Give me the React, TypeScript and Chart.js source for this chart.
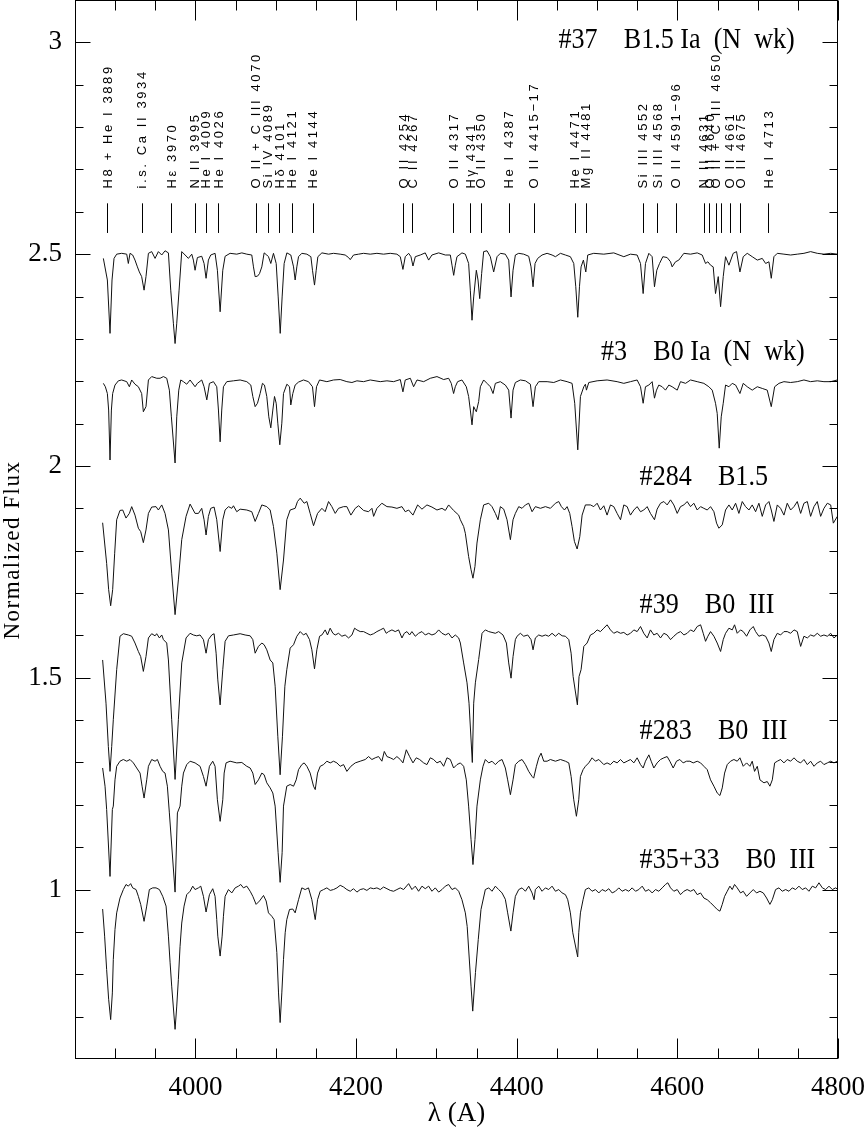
import React, { useEffect, useRef } from "react";
import { Chart, registerables } from "chart.js";

Chart.register(...registerables);

// ---------- DATA ----------
// Spectra: [wavelength (Å), normalized flux + vertical offset]
const s37: [number, number][] = [
[3885.3,2.490],[3890.3,2.439],[3893.6,2.313],[3896.1,2.439],[3898.6,2.490],[3901.9,2.500],[3908.1,2.502],[3914.4,2.500],[3916.4,2.478],[3918.5,2.502],[3921.8,2.498],[3924.7,2.486],[3927.7,2.470],[3930.1,2.458],[3933.0,2.447],[3936.0,2.415],[3938.4,2.447],[3941.4,2.502],[3945.5,2.506],[3949.7,2.490],[3953.8,2.506],[3958.0,2.498],[3962.1,2.508],[3966.3,2.503],[3969.2,2.415],[3972.5,2.337],[3974.6,2.289],[3976.7,2.337],[3979.6,2.415],[3982.9,2.506],[3987.1,2.498],[3991.2,2.490],[3995.4,2.500],[3997.4,2.486],[3999.5,2.462],[4002.4,2.492],[4007.8,2.495],[4010.7,2.478],[4013.2,2.443],[4016.1,2.486],[4019.0,2.498],[4024.4,2.502],[4027.3,2.462],[4030.7,2.364],[4034.0,2.462],[4036.9,2.495],[4043.1,2.502],[4051.4,2.500],[4057.7,2.503],[4063.9,2.500],[4070.1,2.498],[4072.2,2.470],[4074.3,2.447],[4077.2,2.448],[4079.7,2.454],[4082.6,2.470],[4085.5,2.503],[4088.8,2.498],[4090.9,2.494],[4093.8,2.478],[4097.1,2.502],[4100.5,2.478],[4103.0,2.399],[4105.5,2.313],[4107.9,2.399],[4110.4,2.478],[4113.8,2.503],[4118.7,2.498],[4122.1,2.470],[4124.1,2.439],[4126.2,2.470],[4128.3,2.494],[4132.4,2.502],[4138.7,2.500],[4143.7,2.494],[4145.7,2.462],[4148.2,2.427],[4150.3,2.462],[4152.4,2.494],[4157.4,2.503],[4165.7,2.500],[4171.9,2.502],[4180.2,2.500],[4186.4,2.498],[4190.6,2.492],[4192.7,2.487],[4196.8,2.498],[4203.1,2.500],[4209.3,2.502],[4217.6,2.500],[4225.9,2.502],[4234.2,2.500],[4242.5,2.502],[4250.8,2.500],[4255.0,2.494],[4258.3,2.464],[4261.2,2.494],[4265.4,2.502],[4268.3,2.494],[4270.8,2.472],[4273.7,2.494],[4279.9,2.498],[4286.1,2.503],[4290.3,2.486],[4294.4,2.498],[4302.8,2.503],[4311.1,2.498],[4317.3,2.498],[4319.4,2.474],[4321.5,2.450],[4323.5,2.474],[4325.6,2.494],[4331.8,2.503],[4336.0,2.500],[4340.1,2.478],[4342.2,2.415],[4344.3,2.344],[4346.4,2.399],[4349.7,2.462],[4351.8,2.439],[4353.9,2.395],[4356.3,2.454],[4358.8,2.506],[4363.0,2.508],[4367.1,2.494],[4371.3,2.458],[4375.5,2.494],[4379.6,2.502],[4385.8,2.500],[4390.0,2.486],[4392.9,2.399],[4395.4,2.462],[4398.3,2.498],[4402.5,2.502],[4408.7,2.500],[4414.9,2.495],[4417.8,2.470],[4420.3,2.423],[4422.8,2.478],[4426.1,2.490],[4431.5,2.498],[4437.8,2.502],[4444.0,2.498],[4448.2,2.494],[4454.4,2.502],[4460.6,2.498],[4466.8,2.494],[4471.0,2.478],[4473.5,2.423],[4476.0,2.351],[4478.1,2.423],[4480.1,2.470],[4483.0,2.486],[4486.0,2.458],[4488.4,2.498],[4495.9,2.502],[4508.4,2.500],[4520.8,2.503],[4533.3,2.494],[4541.6,2.500],[4549.9,2.498],[4554.1,2.478],[4557.4,2.407],[4560.3,2.478],[4564.5,2.502],[4568.6,2.494],[4571.5,2.423],[4574.4,2.462],[4577.8,2.478],[4581.9,2.494],[4587.3,2.492],[4591.5,2.482],[4593.5,2.470],[4597.7,2.482],[4601.8,2.486],[4608.1,2.502],[4616.4,2.500],[4624.7,2.503],[4630.9,2.498],[4635.1,2.478],[4638.0,2.482],[4641.3,2.474],[4644.6,2.470],[4647.5,2.407],[4650.9,2.447],[4653.8,2.376],[4657.1,2.447],[4660.0,2.494],[4664.2,2.474],[4669.5,2.502],[4673.7,2.506],[4677.9,2.458],[4682.0,2.494],[4687.0,2.502],[4693.2,2.494],[4699.5,2.486],[4705.7,2.490],[4709.9,2.478],[4714.0,2.482],[4716.9,2.443],[4720.2,2.494],[4724.4,2.502],[4732.7,2.500],[4741.0,2.498],[4749.3,2.500],[4757.6,2.502],[4765.9,2.506],[4774.2,2.502],[4782.5,2.500],[4790.9,2.502],[4799.2,2.500]
];

const s3: [number, number][] = [
[3885.3,2.195],[3887.8,2.187],[3890.3,2.171],[3891.9,2.132],[3893.6,2.014],[3895.3,2.132],[3896.9,2.171],[3899.8,2.191],[3904.0,2.201],[3908.1,2.203],[3914.4,2.199],[3917.7,2.187],[3920.6,2.203],[3924.7,2.193],[3928.9,2.187],[3933.0,2.171],[3935.1,2.128],[3938.4,2.140],[3941.4,2.203],[3945.5,2.211],[3951.8,2.207],[3955.9,2.207],[3960.1,2.211],[3964.2,2.207],[3967.5,2.179],[3970.0,2.116],[3974.6,2.007],[3976.7,2.116],[3979.2,2.179],[3981.7,2.203],[3985.0,2.199],[3989.1,2.193],[3993.3,2.203],[3999.5,2.187],[4002.4,2.195],[4007.8,2.203],[4010.7,2.187],[4014.1,2.156],[4017.4,2.195],[4022.4,2.199],[4026.5,2.187],[4028.6,2.132],[4030.7,2.057],[4032.7,2.132],[4034.8,2.187],[4039.0,2.199],[4047.3,2.201],[4055.6,2.203],[4063.9,2.199],[4068.9,2.191],[4071.4,2.164],[4074.3,2.140],[4077.2,2.148],[4080.5,2.171],[4083.4,2.195],[4085.9,2.191],[4088.8,2.164],[4091.3,2.116],[4093.8,2.090],[4096.3,2.132],[4098.4,2.164],[4100.5,2.148],[4102.5,2.101],[4105.0,2.050],[4107.5,2.101],[4109.6,2.171],[4113.8,2.193],[4117.1,2.187],[4118.7,2.144],[4121.2,2.171],[4124.1,2.191],[4128.3,2.198],[4134.5,2.203],[4140.7,2.199],[4145.7,2.187],[4148.2,2.140],[4150.7,2.187],[4154.5,2.203],[4163.6,2.199],[4171.9,2.203],[4180.2,2.204],[4188.5,2.199],[4194.8,2.197],[4201.0,2.201],[4209.3,2.199],[4217.6,2.203],[4230.1,2.199],[4238.4,2.201],[4246.7,2.199],[4255.0,2.204],[4258.3,2.175],[4261.2,2.203],[4267.5,2.207],[4271.6,2.187],[4275.8,2.203],[4284.1,2.199],[4292.4,2.207],[4300.7,2.211],[4309.0,2.204],[4315.2,2.207],[4318.5,2.195],[4321.4,2.171],[4323.5,2.187],[4326.4,2.199],[4331.8,2.203],[4337.2,2.187],[4340.1,2.164],[4342.2,2.132],[4344.3,2.097],[4346.4,2.140],[4348.5,2.132],[4349.7,2.128],[4352.6,2.152],[4354.7,2.187],[4358.8,2.203],[4363.0,2.195],[4367.1,2.187],[4370.5,2.171],[4373.4,2.195],[4379.6,2.199],[4385.8,2.191],[4390.0,2.179],[4392.9,2.113],[4395.4,2.179],[4398.3,2.197],[4404.5,2.203],[4410.8,2.201],[4417.0,2.193],[4420.3,2.140],[4423.2,2.187],[4427.4,2.199],[4437.8,2.199],[4446.1,2.197],[4454.4,2.203],[4462.7,2.199],[4468.9,2.195],[4472.2,2.148],[4476.0,2.038],[4479.3,2.164],[4483.5,2.187],[4485.5,2.193],[4486.8,2.179],[4489.7,2.197],[4500.1,2.201],[4512.5,2.203],[4525.0,2.199],[4533.3,2.195],[4541.6,2.199],[4549.9,2.203],[4554.1,2.187],[4557.4,2.148],[4560.3,2.187],[4564.5,2.191],[4568.6,2.199],[4571.5,2.160],[4574.0,2.179],[4576.9,2.191],[4581.1,2.187],[4585.2,2.179],[4589.4,2.191],[4593.5,2.187],[4599.8,2.179],[4603.9,2.199],[4610.2,2.195],[4616.4,2.203],[4624.7,2.199],[4633.0,2.195],[4639.2,2.187],[4643.4,2.179],[4647.5,2.148],[4649.6,2.124],[4652.1,2.042],[4654.6,2.116],[4657.1,2.148],[4660.0,2.191],[4664.2,2.187],[4668.3,2.195],[4672.5,2.191],[4677.9,2.171],[4682.0,2.195],[4687.0,2.187],[4693.2,2.179],[4699.5,2.187],[4705.7,2.183],[4711.9,2.179],[4716.9,2.140],[4721.1,2.187],[4726.5,2.195],[4732.7,2.199],[4741.0,2.197],[4749.3,2.199],[4757.6,2.203],[4765.9,2.199],[4774.2,2.201],[4782.5,2.199],[4790.9,2.199],[4799.2,2.203]
];

const s284: [number, number][] = [
[3884.4,1.866],[3889.4,1.770],[3891.9,1.708],[3894.4,1.670],[3896.9,1.708],[3899.4,1.794],[3901.9,1.873],[3906.0,1.895],[3909.4,1.896],[3913.5,1.877],[3917.7,1.888],[3920.6,1.904],[3924.7,1.884],[3928.9,1.853],[3931.8,1.845],[3935.1,1.819],[3938.4,1.849],[3941.4,1.888],[3945.5,1.903],[3950.9,1.904],[3953.8,1.896],[3958.0,1.908],[3962.1,1.888],[3966.3,1.849],[3970.4,1.747],[3974.6,1.649],[3978.7,1.731],[3982.9,1.826],[3988.3,1.881],[3993.3,1.910],[3999.5,1.888],[4003.7,1.888],[4007.8,1.900],[4010.7,1.873],[4013.2,1.837],[4016.1,1.881],[4019.0,1.900],[4023.2,1.903],[4026.5,1.873],[4030.7,1.798],[4034.0,1.873],[4036.9,1.896],[4041.1,1.904],[4045.2,1.900],[4047.3,1.906],[4051.4,1.892],[4055.6,1.898],[4063.9,1.896],[4070.1,1.892],[4074.3,1.869],[4078.4,1.888],[4082.6,1.908],[4088.8,1.904],[4093.0,1.896],[4097.1,1.857],[4101.3,1.794],[4105.4,1.708],[4109.6,1.778],[4113.7,1.873],[4117.9,1.896],[4124.1,1.900],[4127.0,1.916],[4130.4,1.924],[4135.3,1.912],[4138.7,1.916],[4142.8,1.888],[4147.0,1.859],[4152.0,1.888],[4157.4,1.900],[4161.5,1.892],[4165.7,1.916],[4169.8,1.904],[4174.0,1.888],[4178.1,1.900],[4184.4,1.904],[4188.5,1.904],[4193.5,1.884],[4198.9,1.900],[4203.1,1.906],[4209.3,1.895],[4215.5,1.892],[4219.7,1.900],[4221.8,1.881],[4225.9,1.900],[4232.1,1.912],[4238.4,1.904],[4244.6,1.903],[4250.8,1.900],[4257.1,1.904],[4261.2,1.892],[4265.4,1.896],[4270.8,1.884],[4276.6,1.908],[4282.0,1.898],[4288.2,1.908],[4294.4,1.903],[4300.7,1.896],[4306.9,1.900],[4311.1,1.895],[4315.2,1.908],[4321.4,1.895],[4327.7,1.884],[4329.8,1.873],[4333.9,1.857],[4336.0,1.841],[4340.1,1.786],[4343.1,1.755],[4345.5,1.735],[4348.0,1.763],[4350.5,1.818],[4354.7,1.873],[4358.8,1.908],[4365.1,1.912],[4369.2,1.904],[4373.4,1.888],[4376.7,1.873],[4379.6,1.904],[4383.8,1.898],[4387.9,1.873],[4392.1,1.826],[4395.4,1.873],[4398.3,1.888],[4402.5,1.904],[4406.6,1.900],[4410.8,1.908],[4414.9,1.912],[4419.1,1.892],[4423.2,1.904],[4429.5,1.900],[4435.7,1.904],[4441.9,1.900],[4448.2,1.912],[4452.3,1.916],[4455.6,1.904],[4459.4,1.896],[4462.7,1.904],[4466.0,1.888],[4468.9,1.857],[4471.8,1.822],[4475.2,1.804],[4478.5,1.833],[4481.4,1.884],[4485.5,1.908],[4491.8,1.908],[4495.9,1.904],[4500.1,1.912],[4504.2,1.896],[4508.4,1.906],[4512.5,1.884],[4516.7,1.908],[4520.8,1.904],[4525.0,1.888],[4529.2,1.873],[4533.3,1.908],[4537.5,1.904],[4541.6,1.884],[4545.8,1.896],[4549.9,1.904],[4554.1,1.892],[4558.2,1.896],[4562.4,1.904],[4566.5,1.888],[4571.5,1.873],[4574.8,1.898],[4579.0,1.912],[4583.2,1.916],[4587.3,1.908],[4591.5,1.920],[4595.6,1.908],[4599.8,1.888],[4603.9,1.904],[4608.1,1.908],[4612.2,1.916],[4616.4,1.904],[4620.5,1.912],[4624.7,1.896],[4628.9,1.904],[4633.0,1.900],[4637.2,1.896],[4641.3,1.904],[4645.5,1.892],[4648.8,1.865],[4651.7,1.853],[4655.9,1.861],[4660.0,1.896],[4664.2,1.908],[4668.3,1.896],[4672.5,1.912],[4676.6,1.888],[4680.8,1.916],[4684.9,1.904],[4689.1,1.896],[4693.2,1.908],[4697.4,1.892],[4701.5,1.912],[4705.7,1.881],[4709.9,1.908],[4714.0,1.916],[4716.9,1.896],[4720.2,1.869],[4724.4,1.908],[4728.5,1.900],[4732.7,1.884],[4736.8,1.912],[4741.0,1.896],[4745.2,1.904],[4749.3,1.916],[4753.5,1.888],[4757.6,1.912],[4761.8,1.916],[4765.9,1.881],[4770.1,1.904],[4774.2,1.916],[4778.4,1.881],[4782.5,1.900],[4786.7,1.912],[4790.9,1.908],[4794.2,1.865],[4799.2,1.881]
];

const s39: [number, number][] = [
[3884.4,1.542],[3888.6,1.440],[3891.5,1.338],[3893.6,1.279],[3895.7,1.338],[3897.7,1.401],[3901.9,1.519],[3906.0,1.598],[3910.2,1.604],[3916.4,1.601],[3920.6,1.598],[3924.7,1.582],[3928.9,1.562],[3931.8,1.550],[3935.1,1.515],[3938.4,1.550],[3941.4,1.594],[3945.5,1.604],[3949.7,1.599],[3951.7,1.604],[3955.1,1.594],[3958.0,1.601],[3960.1,1.590],[3964.2,1.582],[3966.3,1.542],[3970.4,1.401],[3974.6,1.260],[3978.7,1.401],[3982.9,1.535],[3988.3,1.594],[3993.3,1.605],[3997.4,1.601],[4001.6,1.599],[4005.7,1.601],[4009.9,1.590],[4013.2,1.558],[4016.1,1.590],[4020.3,1.601],[4023.2,1.604],[4025.7,1.558],[4027.8,1.495],[4030.7,1.436],[4034.0,1.519],[4036.9,1.586],[4041.1,1.599],[4047.3,1.601],[4055.6,1.604],[4061.8,1.601],[4068.1,1.599],[4071.4,1.590],[4074.3,1.558],[4078.4,1.574],[4082.6,1.582],[4085.5,1.578],[4088.8,1.566],[4093.0,1.542],[4096.3,1.535],[4099.2,1.480],[4102.5,1.362],[4105.4,1.271],[4108.3,1.362],[4111.3,1.480],[4113.7,1.519],[4117.9,1.570],[4122.1,1.578],[4126.2,1.598],[4130.4,1.609],[4134.5,1.601],[4137.8,1.605],[4142.0,1.590],[4144.9,1.566],[4148.2,1.521],[4151.1,1.566],[4154.5,1.598],[4157.4,1.601],[4161.5,1.613],[4164.4,1.601],[4167.7,1.617],[4171.1,1.605],[4174.0,1.601],[4178.1,1.605],[4182.3,1.598],[4186.4,1.601],[4190.6,1.594],[4194.8,1.601],[4198.1,1.617],[4201.0,1.613],[4205.1,1.609],[4209.3,1.609],[4213.4,1.605],[4217.6,1.601],[4221.8,1.604],[4225.9,1.609],[4230.1,1.613],[4234.2,1.617],[4237.5,1.605],[4240.4,1.609],[4244.6,1.613],[4248.7,1.609],[4252.9,1.613],[4257.1,1.594],[4260.0,1.605],[4263.3,1.609],[4266.6,1.601],[4269.5,1.609],[4273.7,1.598],[4277.8,1.605],[4282.0,1.609],[4286.1,1.601],[4290.3,1.605],[4294.4,1.601],[4298.6,1.604],[4302.8,1.613],[4306.9,1.605],[4311.1,1.601],[4315.2,1.605],[4319.4,1.594],[4323.5,1.601],[4327.7,1.594],[4329.8,1.582],[4333.9,1.535],[4338.1,1.488],[4340.6,1.440],[4344.7,1.300],[4346.4,1.440],[4348.5,1.488],[4352.6,1.543],[4356.8,1.605],[4360.9,1.613],[4365.1,1.609],[4369.2,1.607],[4373.4,1.605],[4377.5,1.609],[4382.9,1.601],[4387.1,1.582],[4390.0,1.535],[4392.9,1.499],[4395.4,1.550],[4398.3,1.590],[4400.4,1.598],[4404.5,1.605],[4408.7,1.598],[4413.7,1.601],[4417.8,1.590],[4420.3,1.566],[4423.2,1.594],[4427.4,1.601],[4431.5,1.598],[4435.7,1.601],[4439.8,1.598],[4444.0,1.605],[4448.2,1.598],[4452.3,1.605],[4456.5,1.599],[4460.6,1.598],[4464.8,1.590],[4467.7,1.558],[4470.2,1.503],[4475.5,1.436],[4477.6,1.503],[4480.1,1.519],[4483.5,1.574],[4487.6,1.582],[4491.8,1.601],[4495.9,1.605],[4500.1,1.613],[4504.2,1.609],[4508.4,1.617],[4512.5,1.625],[4516.7,1.613],[4520.8,1.605],[4525.0,1.609],[4529.2,1.605],[4533.3,1.607],[4537.5,1.601],[4541.6,1.605],[4545.8,1.613],[4549.9,1.609],[4554.1,1.621],[4558.2,1.605],[4562.4,1.594],[4566.5,1.613],[4570.7,1.601],[4574.8,1.605],[4579.0,1.594],[4583.2,1.605],[4587.3,1.601],[4591.5,1.590],[4595.6,1.598],[4599.8,1.605],[4603.9,1.609],[4608.1,1.601],[4612.2,1.605],[4616.4,1.613],[4620.5,1.609],[4624.7,1.621],[4628.9,1.625],[4632.2,1.605],[4635.1,1.586],[4638.0,1.598],[4641.3,1.609],[4645.5,1.598],[4649.6,1.582],[4653.8,1.562],[4657.1,1.590],[4660.0,1.605],[4664.2,1.617],[4668.3,1.613],[4671.2,1.625],[4674.5,1.605],[4678.7,1.613],[4682.0,1.609],[4686.2,1.598],[4690.3,1.613],[4694.5,1.621],[4697.4,1.609],[4701.5,1.598],[4705.7,1.601],[4709.9,1.598],[4714.0,1.582],[4716.9,1.562],[4720.2,1.590],[4724.4,1.605],[4728.5,1.601],[4732.7,1.609],[4736.8,1.609],[4741.0,1.605],[4745.2,1.613],[4749.3,1.609],[4753.5,1.574],[4757.6,1.598],[4761.8,1.594],[4765.9,1.601],[4770.1,1.598],[4774.2,1.605],[4778.4,1.598],[4782.5,1.601],[4786.7,1.598],[4790.9,1.605],[4795.0,1.594],[4799.2,1.601]
];

const s283: [number, number][] = [
[3884.4,1.287],[3887.4,1.244],[3889.4,1.189],[3893.6,1.031],[3896.5,1.189],[3897.7,1.197],[3899.8,1.259],[3901.9,1.291],[3906.0,1.303],[3910.2,1.307],[3914.4,1.303],[3918.5,1.307],[3922.7,1.299],[3926.8,1.287],[3931.0,1.275],[3933.5,1.244],[3936.0,1.216],[3939.3,1.259],[3941.4,1.291],[3945.5,1.307],[3949.7,1.303],[3952.6,1.307],[3955.9,1.291],[3959.2,1.279],[3962.1,1.275],[3965.0,1.244],[3967.5,1.181],[3974.6,0.994],[3977.5,1.181],[3980.8,1.197],[3982.9,1.244],[3985.0,1.275],[3989.1,1.295],[3993.3,1.303],[3999.5,1.299],[4005.7,1.291],[4009.9,1.267],[4013.2,1.244],[4017.4,1.291],[4021.5,1.303],[4024.4,1.291],[4027.3,1.212],[4030.7,1.161],[4034.0,1.212],[4035.7,1.275],[4038.1,1.299],[4043.1,1.303],[4051.4,1.299],[4057.7,1.300],[4063.9,1.291],[4068.1,1.287],[4071.4,1.275],[4074.3,1.248],[4078.4,1.259],[4082.6,1.275],[4085.5,1.271],[4088.8,1.252],[4093.0,1.240],[4096.3,1.228],[4099.2,1.197],[4102.9,1.087],[4105.4,1.017],[4107.9,1.087],[4109.6,1.197],[4113.7,1.244],[4117.9,1.248],[4122.1,1.244],[4125.4,1.259],[4128.3,1.283],[4132.4,1.295],[4135.3,1.299],[4138.7,1.291],[4142.8,1.275],[4147.0,1.244],[4149.1,1.236],[4152.0,1.275],[4155.3,1.291],[4159.5,1.295],[4163.6,1.303],[4167.8,1.299],[4171.9,1.303],[4176.1,1.299],[4180.2,1.291],[4184.4,1.295],[4188.5,1.279],[4193.5,1.291],[4198.9,1.299],[4205.1,1.303],[4211.4,1.307],[4215.5,1.314],[4219.7,1.307],[4223.8,1.311],[4228.0,1.314],[4232.1,1.303],[4235.1,1.326],[4238.4,1.314],[4242.5,1.311],[4246.7,1.307],[4250.8,1.314],[4255.0,1.307],[4258.3,1.299],[4262.5,1.330],[4266.6,1.314],[4270.8,1.299],[4274.9,1.311],[4279.1,1.307],[4284.1,1.299],[4288.2,1.295],[4292.4,1.311],[4296.5,1.307],[4300.7,1.299],[4304.8,1.303],[4309.0,1.291],[4313.1,1.311],[4317.3,1.307],[4321.4,1.287],[4325.6,1.295],[4329.8,1.299],[4333.9,1.291],[4337.2,1.259],[4340.1,1.197],[4343.1,1.118],[4345.5,1.059],[4348.0,1.118],[4350.5,1.197],[4354.7,1.259],[4358.0,1.291],[4360.9,1.307],[4365.1,1.299],[4369.2,1.303],[4373.4,1.295],[4377.5,1.303],[4381.7,1.307],[4385.8,1.287],[4388.7,1.259],[4392.1,1.224],[4395.4,1.259],[4398.3,1.295],[4402.5,1.303],[4406.6,1.307],[4410.8,1.295],[4414.9,1.279],[4419.1,1.267],[4421.1,1.263],[4424.5,1.291],[4427.4,1.311],[4430.3,1.322],[4433.6,1.303],[4437.8,1.303],[4441.9,1.307],[4448.2,1.303],[4454.4,1.307],[4460.6,1.303],[4464.8,1.299],[4467.7,1.267],[4471.0,1.212],[4474.3,1.173],[4477.2,1.212],[4479.3,1.267],[4482.6,1.283],[4485.5,1.291],[4489.7,1.299],[4493.8,1.311],[4498.0,1.303],[4502.2,1.307],[4508.4,1.295],[4512.5,1.299],[4516.7,1.295],[4520.8,1.303],[4525.0,1.299],[4529.2,1.307],[4533.3,1.299],[4537.5,1.303],[4541.6,1.307],[4545.8,1.299],[4549.9,1.311],[4554.1,1.295],[4557.4,1.287],[4560.3,1.303],[4564.5,1.318],[4567.4,1.303],[4570.7,1.287],[4574.8,1.299],[4579.0,1.307],[4583.2,1.311],[4587.3,1.314],[4590.6,1.303],[4594.8,1.287],[4598.9,1.303],[4603.1,1.307],[4607.2,1.299],[4611.4,1.303],[4615.6,1.303],[4619.7,1.299],[4624.7,1.303],[4628.9,1.299],[4633.0,1.291],[4637.2,1.283],[4641.3,1.259],[4645.5,1.244],[4649.6,1.228],[4653.0,1.222],[4655.9,1.240],[4658.8,1.275],[4662.1,1.295],[4666.2,1.303],[4670.4,1.307],[4674.5,1.303],[4677.9,1.311],[4682.0,1.291],[4686.2,1.299],[4690.3,1.291],[4693.2,1.303],[4696.1,1.279],[4699.5,1.291],[4702.8,1.259],[4707.8,1.252],[4711.9,1.255],[4715.2,1.244],[4718.2,1.259],[4721.1,1.299],[4724.4,1.303],[4728.5,1.307],[4732.7,1.299],[4736.8,1.307],[4741.0,1.303],[4745.2,1.311],[4749.3,1.303],[4753.5,1.299],[4757.6,1.307],[4761.8,1.295],[4765.9,1.303],[4770.1,1.291],[4774.2,1.299],[4778.4,1.303],[4782.5,1.295],[4786.7,1.299],[4790.9,1.303],[4795.0,1.299],[4799.2,1.303]
];

const s35_33: [number, number][] = [
[3884.4,0.954],[3886.9,0.890],[3889.4,0.811],[3891.9,0.741],[3894.4,0.693],[3896.5,0.756],[3897.7,0.835],[3899.8,0.906],[3901.9,0.945],[3906.0,0.980],[3910.2,1.000],[3913.5,1.012],[3916.4,1.008],[3919.3,1.014],[3921.8,1.004],[3926.0,1.000],[3928.9,0.984],[3931.8,0.965],[3936.0,0.925],[3939.3,0.961],[3942.6,1.000],[3946.8,1.004],[3950.9,1.004],[3955.1,1.000],[3959.2,0.984],[3963.4,0.961],[3966.3,0.890],[3968.4,0.827],[3970.4,0.772],[3974.6,0.670],[3976.7,0.725],[3978.7,0.788],[3980.8,0.866],[3982.9,0.921],[3985.8,0.961],[3989.1,0.988],[3993.3,0.996],[3996.6,1.008],[3999.5,1.000],[4003.7,1.004],[4006.6,1.008],[4009.9,0.984],[4013.2,0.947],[4017.4,0.988],[4021.5,1.002],[4024.4,0.984],[4026.5,0.929],[4027.8,0.890],[4030.7,0.843],[4033.2,0.890],[4034.8,0.937],[4036.9,0.984],[4041.1,1.000],[4045.2,0.992],[4049.4,1.004],[4053.5,1.008],[4056.4,1.012],[4059.7,1.004],[4063.9,1.008],[4068.1,0.996],[4071.4,0.984],[4075.5,0.965],[4079.7,0.973],[4084.7,0.986],[4088.0,0.973],[4090.9,0.945],[4095.0,0.937],[4097.9,0.929],[4101.3,0.851],[4103.4,0.756],[4105.4,0.686],[4107.5,0.756],[4109.6,0.835],[4111.7,0.898],[4113.7,0.929],[4117.1,0.953],[4121.2,0.954],[4124.1,0.945],[4128.3,0.976],[4132.4,1.004],[4136.6,1.000],[4140.7,1.004],[4144.9,0.976],[4149.1,0.929],[4152.0,0.976],[4155.3,0.996],[4159.5,1.000],[4163.6,1.004],[4167.8,0.998],[4171.9,1.000],[4176.1,1.004],[4180.2,1.010],[4184.4,1.006],[4188.5,1.000],[4192.7,0.996],[4196.8,1.002],[4201.0,0.994],[4205.1,1.000],[4209.3,1.002],[4213.4,0.998],[4217.6,1.004],[4221.8,1.002],[4225.9,1.004],[4230.1,1.000],[4234.2,1.006],[4238.4,1.002],[4242.5,0.998],[4246.7,0.996],[4250.8,1.000],[4255.0,1.004],[4259.1,1.000],[4265.4,1.014],[4269.5,1.000],[4273.7,1.008],[4277.8,0.996],[4282.0,1.008],[4286.1,1.002],[4290.3,1.008],[4294.4,0.996],[4298.6,1.004],[4302.8,0.994],[4306.9,1.000],[4311.1,1.008],[4315.2,1.012],[4319.4,1.000],[4323.5,1.004],[4327.7,0.996],[4331.8,0.976],[4336.0,0.945],[4338.3,0.913],[4343.1,0.772],[4345.2,0.713],[4348.6,0.804],[4352.1,0.882],[4355.5,0.953],[4360.9,1.000],[4365.1,1.004],[4369.2,0.996],[4373.4,1.008],[4377.5,1.000],[4381.7,0.992],[4385.8,0.977],[4388.7,0.945],[4392.7,0.902],[4395.4,0.945],[4398.3,0.984],[4402.5,1.000],[4406.6,1.004],[4410.8,0.996],[4414.9,1.008],[4419.1,0.992],[4421.6,0.976],[4423.2,1.000],[4427.4,1.008],[4431.5,0.996],[4435.7,1.004],[4439.8,1.000],[4444.0,1.008],[4448.2,0.996],[4452.3,1.000],[4456.5,0.992],[4460.6,0.988],[4463.5,0.976],[4466.8,0.945],[4469.8,0.898],[4475.9,0.841],[4477.2,0.898],[4479.3,0.945],[4482.6,0.976],[4485.5,1.000],[4489.7,1.004],[4493.8,0.996],[4498.0,1.000],[4502.2,0.992],[4506.3,1.000],[4510.5,0.996],[4514.6,1.002],[4518.8,0.992],[4522.9,0.996],[4527.1,1.004],[4531.2,0.996],[4535.4,1.000],[4539.5,0.996],[4543.7,1.004],[4547.9,0.996],[4552.0,1.000],[4556.2,1.008],[4560.3,0.996],[4564.5,1.000],[4568.6,0.992],[4572.8,1.000],[4576.9,0.996],[4581.1,1.004],[4585.2,1.012],[4588.1,1.016],[4591.5,1.004],[4595.6,0.996],[4599.8,1.000],[4603.9,0.988],[4608.1,0.996],[4612.2,1.000],[4616.4,0.996],[4620.5,1.000],[4624.7,0.988],[4628.9,0.992],[4633.0,0.980],[4637.2,0.976],[4641.3,0.969],[4645.5,0.961],[4649.6,0.953],[4653.0,0.949],[4655.9,0.965],[4658.8,0.984],[4662.1,0.996],[4665.4,1.008],[4668.3,1.000],[4671.2,1.012],[4674.5,1.004],[4678.7,0.992],[4682.0,0.996],[4686.2,0.984],[4690.3,0.992],[4694.5,1.000],[4698.6,0.992],[4702.8,0.996],[4707.0,0.992],[4711.1,0.980],[4715.2,0.965],[4718.2,0.976],[4722.3,1.000],[4726.5,1.004],[4730.6,0.996],[4734.8,1.000],[4738.9,0.996],[4743.1,1.004],[4747.2,1.000],[4751.4,1.008],[4755.5,1.000],[4759.7,1.004],[4763.8,0.996],[4768.0,1.008],[4772.2,1.004],[4776.3,1.016],[4780.5,1.004],[4784.6,1.000],[4788.8,1.008],[4792.9,1.000],[4797.1,1.004],[4800.0,1.000]
];

const starNames: string[] = [
  "#37    B1.5 Ia  (N  wk)",
  "#3    B0 Ia  (N  wk)",
  "#284    B1.5",
  "#39    B0  III",
  "#283    B0  III",
  "#35+33    B0  III",
];

// Line identifications: marker wavelength (Å) and label
const lineWavelengths: number[] = [3890,3933,3970,3999,4013,4028,4075,4090,4104,4120,4146,4259,4270,4321,4342,4355,4390,4421,4472,4486,4557,4575,4598,4633,4640,4648,4654,4665,4678,4713];
const lineLabels: string[] = [
  "H8 + He I 3889","i.s. Ca II 3934","H\u03b5 3970","N II 3995","He I 4009","He I 4026",
  "O II + C III 4070","Si IV 4089","H\u03b4 4101","He I 4121","He I 4144",
  "O II 4254","C II 4267","O II 4317","H\u03b3 4341","O II 4350","He I 4387",
  "O II 4415\u221217","He I 4471","Mg II 4481","Si III 4552","Si III 4568","O II 4591\u221296",
  "N II 4631","O II 4640","O II + C III 4650","","O II 4661","O II 4675","He I 4713"
];

const yTickLabels: string[] = ["1", "1.5", "2", "2.5", "3"];
const xTickLabels: string[] = ["4000", "4200", "4400", "4600", "4800"];

// ---------- LAYOUT / STYLE ----------
const X_MIN = 3850, X_MAX = 4800, Y_MIN = 0.6, Y_MAX = 3.1;
// star label anchors in data coordinates (left edge, vertical middle)
const starAnchors: [number, number][] = [
  [4452, 3.005], [4505, 2.267], [4553, 1.972], [4553, 1.670], [4553, 1.373], [4553, 1.068],
];
const MARK_TOP = 2.620, MARK_BOTTOM = 2.550, MARK_TEXT = 2.655;

const overlay = {
  id: "overlay",
  afterDraw(chart: any) {
    const { ctx, chartArea: a, scales } = chart;
    const xs = scales.x, ys = scales.y;
    ctx.save();
    ctx.strokeStyle = "#000";
    ctx.fillStyle = "#000";
    ctx.lineWidth = 1;
    const L = Math.round(a.left) + 0.5, R = Math.round(a.right) - 0.5;
    const T = Math.round(a.top) + 0.5, B = Math.round(a.bottom) - 0.5;
    ctx.strokeRect(L, T, R - L, B - T);

    // x ticks (inward, bottom and top)
    ctx.beginPath();
    for (let v = 3900; v <= X_MAX; v += 50) {
      const px = Math.round(xs.getPixelForValue(v)) + 0.5;
      const len = v % 200 === 0 ? 20 : 10;
      ctx.moveTo(px, B); ctx.lineTo(px, B - len);
      ctx.moveTo(px, T); ctx.lineTo(px, T + len);
    }
    // y ticks (inward, left and right)
    for (let t = 7; t <= 31; t++) {
      const py = Math.round(ys.getPixelForValue(t / 10)) + 0.5;
      const len = t % 5 === 0 ? 15 : 8;
      ctx.moveTo(L, py); ctx.lineTo(L + len, py);
      ctx.moveTo(R, py); ctx.lineTo(R - len, py);
    }
    ctx.stroke();

    // tick labels
    ctx.font = '27px "Liberation Serif"';
    ctx.textBaseline = "middle";
    ctx.textAlign = "right";
    yTickLabels.forEach((s) => {
      ctx.fillText(s, a.left - 13, ys.getPixelForValue(parseFloat(s)));
    });
    ctx.textAlign = "center";
    xTickLabels.forEach((s) => {
      ctx.fillText(s, xs.getPixelForValue(parseFloat(s)), a.bottom + 29);
    });

    // axis titles
    ctx.font = '27px "Liberation Serif"';
    ctx.fillText("\u03bb (A)", (a.left + a.right) / 2, a.bottom + 55);
    ctx.save();
    ctx.translate(13, 550);
    ctx.rotate(-Math.PI / 2);
    ctx.font = '23px "Liberation Serif"';
    (ctx as any).letterSpacing = "1.5px";
    ctx.textAlign = "center";
    ctx.fillText("Normalized Flux", 0, 0);
    ctx.restore();

    // star labels (tall, slightly condensed serif)
    ctx.font = '29px "Liberation Serif"';
    (ctx as any).letterSpacing = "0px";
    ctx.textAlign = "left";
    starNames.forEach((s, i) => {
      const [lx, ly] = starAnchors[i];
      ctx.save();
      ctx.translate(xs.getPixelForValue(lx), ys.getPixelForValue(ly));
      ctx.scale(0.9, 1);
      ctx.fillText(s, 0, 0);
      ctx.restore();
    });

    // line identification markers and labels
    ctx.beginPath();
    const yTop = ys.getPixelForValue(MARK_TOP), yBot = ys.getPixelForValue(MARK_BOTTOM);
    lineWavelengths.forEach((w) => {
      const px = Math.round(xs.getPixelForValue(w)) + 0.5;
      ctx.moveTo(px, yTop); ctx.lineTo(px, yBot);
    });
    ctx.stroke();
    ctx.font = '13px "Liberation Sans"';
    (ctx as any).letterSpacing = "2.6px";
    ctx.textAlign = "left";
    ctx.textBaseline = "middle";
    const yText = ys.getPixelForValue(MARK_TEXT);
    lineWavelengths.forEach((w, i) => {
      if (!lineLabels[i]) return;
      ctx.save();
      ctx.translate(xs.getPixelForValue(w) + 1, yText);
      ctx.rotate(-Math.PI / 2);
      ctx.fillText(lineLabels[i], 0, 0);
      ctx.restore();
    });
    ctx.restore();
  },
};

const spectra = [s37, s3, s284, s39, s283, s35_33];

export default function App() {
  const ref = useRef<HTMLCanvasElement | null>(null);
  useEffect(() => {
    document.body.style.margin = "0";
    const chart = new Chart(ref.current as HTMLCanvasElement, {
      type: "scatter",
      data: {
        datasets: spectra.map((s) => ({
          data: s.map(([x, y]) => ({ x, y })),
          showLine: true,
          borderColor: "#111",
          borderWidth: 1,
          pointRadius: 0,
          fill: false,
          tension: 0,
        })),
      },
      options: {
        responsive: false,
        animation: false,
        devicePixelRatio: 1,
        events: [],
        layout: { padding: { left: 75, right: 28, top: 0, bottom: 68 } },
        plugins: { legend: { display: false }, tooltip: { enabled: false } },
        scales: {
          x: { type: "linear", min: X_MIN, max: X_MAX, display: false },
          y: { type: "linear", min: Y_MIN, max: Y_MAX, display: false },
        },
      },
      plugins: [overlay],
    } as any);
    return () => chart.destroy();
  }, []);
  return (
    <div style={{ position: "absolute", left: 0, top: 0, width: 866, height: 1127, background: "#fff" }}>
      <canvas ref={ref} width={866} height={1127} style={{ display: "block" }} />
    </div>
  );
}
